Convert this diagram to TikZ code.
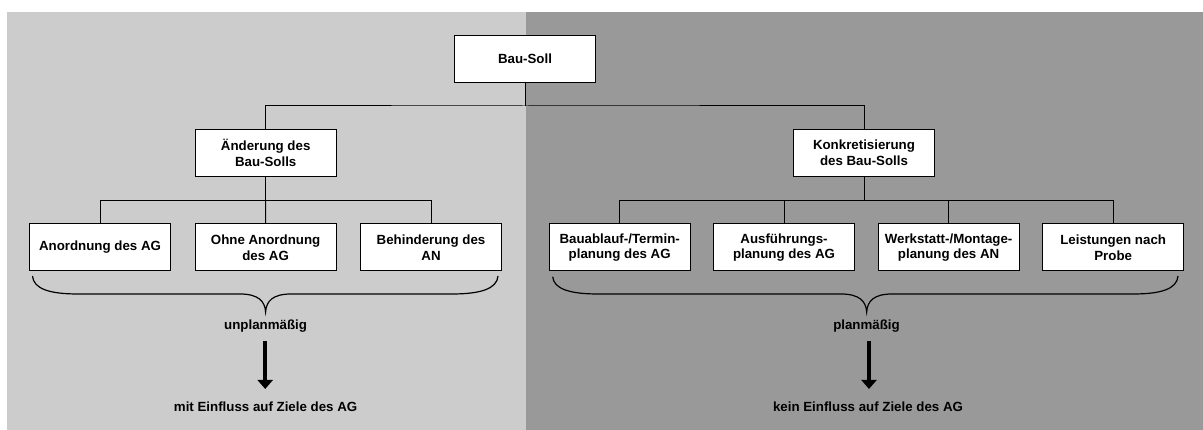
\documentclass[tikz,border=0pt]{standalone}
\usepackage{fontspec}
\setmainfont{Liberation Sans}
\usetikzlibrary{arrows.meta}
\definecolor{lightpanel}{HTML}{CCCCCC}
\definecolor{darkpanel}{HTML}{999999}
\begin{document}
\begin{tikzpicture}[x=1pt,y=-1pt,
  every node/.style={font=\fontsize{13.3}{15.7}\selectfont\bfseries, align=center},
  box/.style={draw=black, line width=1pt, fill=white, minimum height=47pt, inner sep=2pt},
  wbox/.style={box, minimum width=141pt},
  conn/.style={draw=black, line width=1pt},
  brace/.style={draw=black, line width=1.2pt},
  bigarrow/.style={draw=black, line width=3.5pt, -{Triangle[width=15pt,length=9pt]}},
  plain/.style={inner sep=1pt}
]
\useasboundingbox (0,0) rectangle (1203,430);
\fill[white] (0,0) rectangle (1203,430);
\fill[lightpanel] (7,12) rectangle (525.7,430);
\fill[darkpanel] (525.7,12) rectangle (1203,430);

% nodes
\node[wbox] (bs) at (525,59) {Bau-Soll};
\node[wbox] (aen) at (265.7,153) {Änderung des\\Bau-Solls};
\node[wbox] (kon) at (864,153) {Konkretisierung\\des Bau-Solls};

\node[wbox] (l1) at (100,247.5) {Anordnung des AG};
\node[wbox] (l2) at (265.6,247.5) {Ohne Anordnung\\des AG};
\node[wbox] (l3) at (431,247.5) {Behinderung des\\AN};

\node[wbox] (r1) at (619.7,247.5) {Bauablauf-/Termin-\\planung des AG};
\node[wbox] (r2) at (784,247.5) {Ausführungs-\\planung des AG};
\node[wbox] (r3) at (948.6,247.5) {Werkstatt-/Montage-\\planung des AN};
\node[wbox] (r4) at (1113.2,247.5) {Leistungen nach\\Probe};

\node[plain] (u) at (265.6,326) {unplanmäßig};
\node[plain] (m) at (265.6,406.7) {mit Einfluss auf Ziele des AG};
\node[plain] (p) at (866.5,326) {planmäßig};
\node[plain] (k) at (868,406.7) {kein Einfluss auf Ziele des AG};

% junctions
\coordinate (j1) at (525,106);
\coordinate (j2) at (265.7,200.7);
\coordinate (j3) at (864,200.7);

% tree connectors
\draw[conn] (bs.south) -- (j1);
\draw[conn] (aen.north) |- (j1) -| (kon.north);
\draw[conn] (aen.south) -- (j2);
\draw[conn] (l1.north) |- (j2) -| (l3.north);
\draw[conn] (l2.north) -- (j2);
\draw[conn] (kon.south) -- (j3);
\draw[conn] (r1.north) |- (j3) -| (r4.north);
\draw[conn] (r2.north) -- (r2.north |- j3);
\draw[conn] (r3.north) -- (r3.north |- j3);

% braces
\draw[brace] (32.5,276) .. controls (33.5,289) and (50,294) .. (78,294)
  -- (240,294) .. controls (258,294) and (265,301) .. (265.6,312)
  .. controls (266.2,301) and (273,294) .. (291,294)
  -- (452,294) .. controls (480,294) and (497,289) .. (498,276);
\draw[brace] (552.7,276.7) .. controls (553.7,289) and (570,294) .. (598,294)
  -- (841,294) .. controls (859,294) and (866,301) .. (866.7,312)
  .. controls (867.3,301) and (874,294) .. (892,294)
  -- (1133,294) .. controls (1161,294) and (1177,289) .. (1178,276);

% arrows
\draw[bigarrow] (265.2,340.7) -- (265.2,389);
\draw[bigarrow] (869,340.7) -- (869,389);
\end{tikzpicture}
\end{document}
